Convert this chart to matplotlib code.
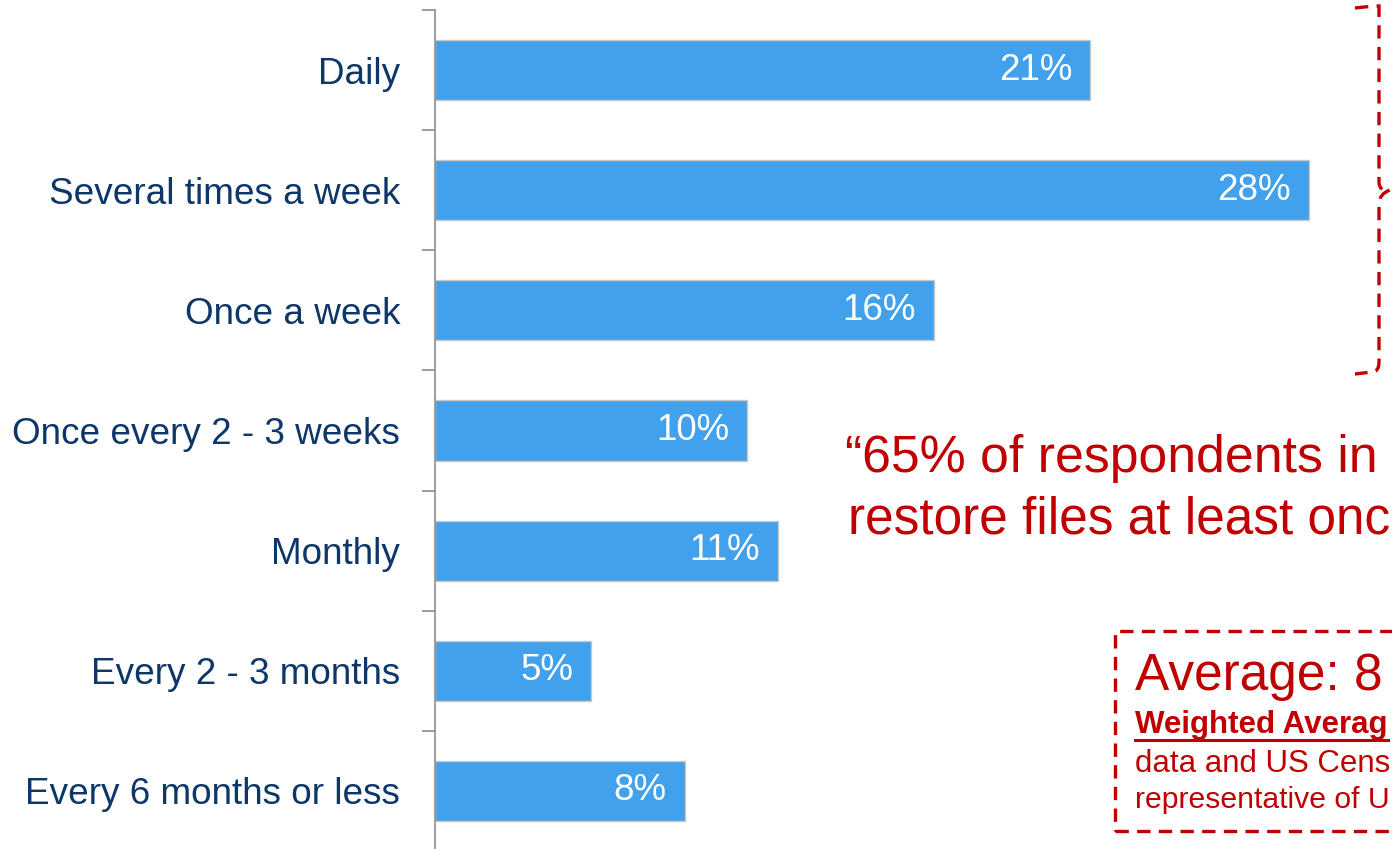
import matplotlib
matplotlib.use("Agg")
import matplotlib.pyplot as plt
import numpy as np
from matplotlib.ticker import FixedLocator
from matplotlib.lines import Line2D
from matplotlib.path import Path
from matplotlib.patches import PathPatch

categories = ["Daily", "Several times a week", "Once a week", "Once every 2 - 3 weeks",
              "Monthly", "Every 2 - 3 months", "Every 6 months or less"]
values = [21, 28, 16, 10, 11, 5, 8]
value_labels = ["21%", "28%", "16%", "10%", "11%", "5%", "8%"]

quote_lines = ["\u201c65% of respondents in", "restore files at least onc"]
avg_title = "Average: 8"
avg_bold = "Weighted Averag"
avg_lines = ["data and US Cens", "representative of U"]

plt.rcParams['font.family'] = ['Liberation Sans', 'DejaVu Sans']

W, H = 1392, 849
fig = plt.figure(figsize=(W / 100, H / 100), dpi=100)

# background gradient
bg = fig.add_axes([0, 0, 1, 1], zorder=-10)
rows = np.linspace(0, 1, 256)
shade = np.where(rows < 0.4, 1.0, 1.0 - (rows - 0.4) / 0.6 * 0.065)
img = np.dstack([shade, shade, shade])[:, :1, :].repeat(2, axis=1)
bg.imshow(img, aspect='auto', extent=[0, 1, 0, 1], origin='upper')
bg.set_axis_off()

def fx(px):
    return px / W

def fy(py):
    return 1 - py / H

ax_top, ax_bot = 10, 851
ax = fig.add_axes([fx(435), fy(ax_bot), fx(435 + 936) - fx(435), (ax_bot - ax_top) / H])
ax.patch.set_alpha(0)

y = np.arange(len(categories))
ax.barh(y, values, height=0.5, color='#42A1EC', edgecolor='#C8C8C8', linewidth=1.0)
ax.set_xlim(0, 30)
ax.set_ylim(len(categories) - 0.5, -0.5)

for yi, v, lab in zip(y, values, value_labels):
    ax.text(v - 0.58, yi, lab, ha='right', va='center', color='white', fontsize=26.5)

ax.set_yticks(y)
ax.set_yticklabels(categories, fontsize=26.6, color='#0C3768')
ax.tick_params(axis='y', which='major', length=0, pad=25)
ax.yaxis.set_minor_locator(FixedLocator(np.arange(-0.5, len(categories), 1.0)))
ax.tick_params(axis='y', which='minor', length=9.5, width=1.2, color='#8C8C8C', direction='out')
ax.set_xticks([])
for s in ['top', 'right', 'bottom']:
    ax.spines[s].set_visible(False)
ax.spines['left'].set_color('#8C8C8C')
ax.spines['left'].set_linewidth(1.2)

red = '#C00000'

# quote text
fig.text(fx(845), fy(472), quote_lines[0], color=red, fontsize=37.3, ha='left', va='baseline')
fig.text(fx(848), fy(533), quote_lines[1], color=red, fontsize=37, ha='left', va='baseline')

# curly bracket "}" (dashed)
bx = 1379
verts = [(1355, 8), (1372, 6), (bx, 6), (bx, 16),
         (bx, 182), (bx, 192), (1390, 190),
         (bx, 194), (bx, 204),
         (bx, 362), (bx, 372), (1372, 372), (1355, 374)]
codes = [Path.MOVETO, Path.CURVE3, Path.CURVE3, Path.LINETO,
         Path.LINETO, Path.CURVE3, Path.CURVE3,
         Path.CURVE3, Path.CURVE3,
         Path.LINETO, Path.CURVE3, Path.CURVE3, Path.LINETO]
verts_f = [(fx(a), fy(b)) for a, b in verts]
pp = PathPatch(Path(verts_f, codes), transform=fig.transFigure, fill=False,
               edgecolor=red, linewidth=2.4, linestyle=(0, (4, 2.5)))
fig.add_artist(pp)

# dashed box
box_l, box_t, box_r, box_b = 1115, 631, 1420, 831
rect = plt.Rectangle((fx(box_l), fy(box_b)), fx(box_r) - fx(box_l), fy(box_t) - fy(box_b),
                     transform=fig.transFigure, fill=False, edgecolor=red,
                     linewidth=2.4, linestyle=(0, (4, 2.5)))
fig.add_artist(rect)

fig.text(fx(1135), fy(690), avg_title, color=red, fontsize=37, ha='left', va='baseline')
tb = fig.text(fx(1135), fy(733), avg_bold, color=red, fontsize=22.5, fontweight='bold',
              ha='left', va='baseline')
fig.text(fx(1135), fy(772), avg_lines[0], color=red, fontsize=22.5, ha='left', va='baseline')
fig.text(fx(1135), fy(808), avg_lines[1], color=red, fontsize=21.7, ha='left', va='baseline')

fig.canvas.draw()
bb = tb.get_window_extent()
fig.add_artist(Line2D([bb.x0 / W, bb.x1 / W], [fy(740), fy(740)], transform=fig.transFigure,
                      color=red, linewidth=2.2))

fig.savefig("out.png", dpi=100)
